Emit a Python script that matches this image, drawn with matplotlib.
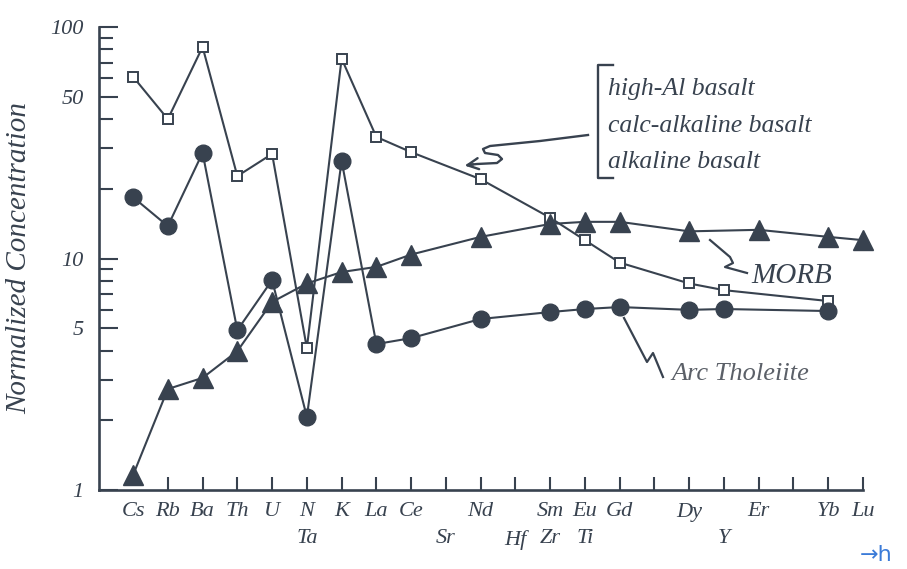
import numpy as np
import matplotlib
matplotlib.use("Agg")
import matplotlib.pyplot as plt

# element order along the x axis (two label rows)
elements = ["Cs", "Rb", "Ba", "Th", "U", "N", "K", "La", "Ce", "", "Nd", "",
            "Sm", "Eu", "Gd", "", "Dy", "", "Er", "", "Yb", "Lu"]
lower_row = ["", "", "", "", "", "Ta", "", "", "", "Sr", "", "Hf",
             "Zr", "Ti", "", "", "", "Y", "", "", "", ""]

# high-Al / calc-alkaline / alkaline basalt (open squares)
sq_idx = [0, 1, 2, 3, 4, 5, 6, 7, 8, 10, 12, 13, 14, 16, 17, 20]
sq_val = [61, 40, 82, 22.7, 28.3, 4.1, 73, 33.5, 28.8, 22.0, 15.0, 12.0,
          9.6, 7.8, 7.3, 6.55]

# arc tholeiite (filled circles)
ci_idx = [0, 1, 2, 3, 4, 5, 6, 7, 8, 10, 12, 13, 14, 16, 17, 20]
ci_val = [18.4, 13.8, 28.6, 4.9, 8.07, 2.07, 26.4, 4.27, 4.53, 5.48, 5.87,
          6.05, 6.17, 6.0, 6.05, 5.93]

# MORB (filled triangles)
tr_idx = [0, 1, 2, 3, 4, 5, 6, 7, 8, 10, 12, 13, 14, 16, 18, 20, 21]
tr_val = [1.16, 2.73, 3.05, 3.98, 6.49, 7.8, 8.74, 9.2, 10.4, 12.4, 14.1,
          14.4, 14.4, 13.1, 13.3, 12.4, 12.0]

ink = "#38424f"
W, H = 907, 569
serif = ["Liberation Serif", "DejaVu Serif"]

fig = plt.figure(figsize=(W / 100, H / 100), dpi=100)
ax = fig.add_axes([99 / W, 79 / H, 764 / W, 463 / H])

def fp(x, y):
    # picture pixels -> figure fraction
    return x / W, 1 - y / H

ax.plot(sq_idx, sq_val, color=ink, lw=1.5, marker="s", ms=7, mfc="white",
        mec=ink, mew=1.4, clip_on=False, zorder=3)
ax.plot(ci_idx, ci_val, color=ink, lw=1.5, marker="o", ms=12, mfc=ink,
        mec=ink, clip_on=False, zorder=3)
ax.plot(tr_idx, tr_val, color=ink, lw=1.5, marker="^", ms=14, mfc=ink,
        mec=ink, clip_on=False, zorder=4)

ax.set_yscale("log")
ax.set_ylim(1, 100)
ax.set_xlim(-0.98, 21)

for s in ["top", "right"]:
    ax.spines[s].set_visible(False)
for s in ["left", "bottom"]:
    ax.spines[s].set_color(ink)
    ax.spines[s].set_linewidth(1.9)

ax.set_yticks([1, 5, 10, 50, 100])
ax.set_yticklabels(["1", "5", "10", "50", "100"], fontfamily=serif,
                   fontstyle="italic", fontsize=16, color=ink)
ax.set_yticks([2, 3, 4, 6, 7, 8, 9, 20, 30, 40, 60, 70, 80, 90], minor=True)
ax.yaxis.set_minor_formatter(matplotlib.ticker.NullFormatter())
ax.tick_params(axis="y", which="major", direction="in", length=13.5,
               width=1.5, color=ink, pad=11)
ax.tick_params(axis="y", which="minor", direction="in", length=10,
               width=1.5, color=ink)

labels = [a + "\n" + b for a, b in zip(elements, lower_row)]
ax.set_xticks(range(len(elements)))
ax.set_xticklabels(labels, fontfamily=serif, fontstyle="italic",
                   fontsize=16, color=ink, linespacing=1.55)
ax.tick_params(axis="x", which="major", direction="in", length=9.5,
               width=1.5, color=ink, pad=9)
ax.xaxis.get_major_ticks()[0].tick1line.set_visible(False)

ax.set_ylabel("Normalized Concentration", fontfamily=serif,
              fontstyle="italic", fontsize=21, color=ink, labelpad=13)

# bracket with the three basalt names
fig.add_artist(plt.Line2D([613 / W, 598 / W, 598 / W, 613 / W],
                          [fp(0, 65)[1], fp(0, 65)[1], fp(0, 178)[1], fp(0, 178)[1]],
                          color=ink, lw=1.7))
for txt, y in [("high-Al basalt", 89), ("calc-alkaline basalt", 126),
               ("alkaline basalt", 162)]:
    fig.text(*fp(608, y), txt, fontfamily=serif, fontstyle="italic",
             fontsize=18.5, color=ink, va="center", ha="left")

# squiggly arrow towards the square series
sx = [588, 540, 490, 483, 485, 498, 502, 497, 477, 468]
sy = [135, 141, 146, 149, 153, 155, 159, 163, 164, 165]
fig.add_artist(plt.Line2D([x / W for x in sx], [1 - y / H for y in sy],
                          color=ink, lw=1.7))
ax.annotate("", xy=fp(462, 166), xytext=fp(476, 164),
            xycoords="figure fraction", textcoords="figure fraction",
            arrowprops=dict(arrowstyle="->", color=ink, lw=1.7,
                            mutation_scale=20))

# MORB label and leader
mx = [710, 730, 733, 725, 747]
my = [240, 257, 263, 267, 273]
fig.add_artist(plt.Line2D([x / W for x in mx], [1 - y / H for y in my],
                          color=ink, lw=1.6))
fig.text(*fp(751, 276), "MORB", fontfamily=serif, fontstyle="italic",
         fontsize=21, color=ink, va="center", ha="left")

# Arc Tholeiite label and leader
axx = [624, 647, 653, 663]
axy = [318, 362, 353, 377]
fig.add_artist(plt.Line2D([x / W for x in axx], [1 - y / H for y in axy],
                          color=ink, lw=1.6))
fig.text(*fp(671, 374), "Arc Tholeiite", fontfamily=serif, fontstyle="italic",
         fontsize=19, color="#5b6068", va="center", ha="left")

fig.text(*fp(860, 555), "→h", fontsize=16, color="#3b7bd8",
         va="center", ha="left")

fig.savefig("out.png", dpi=100)
